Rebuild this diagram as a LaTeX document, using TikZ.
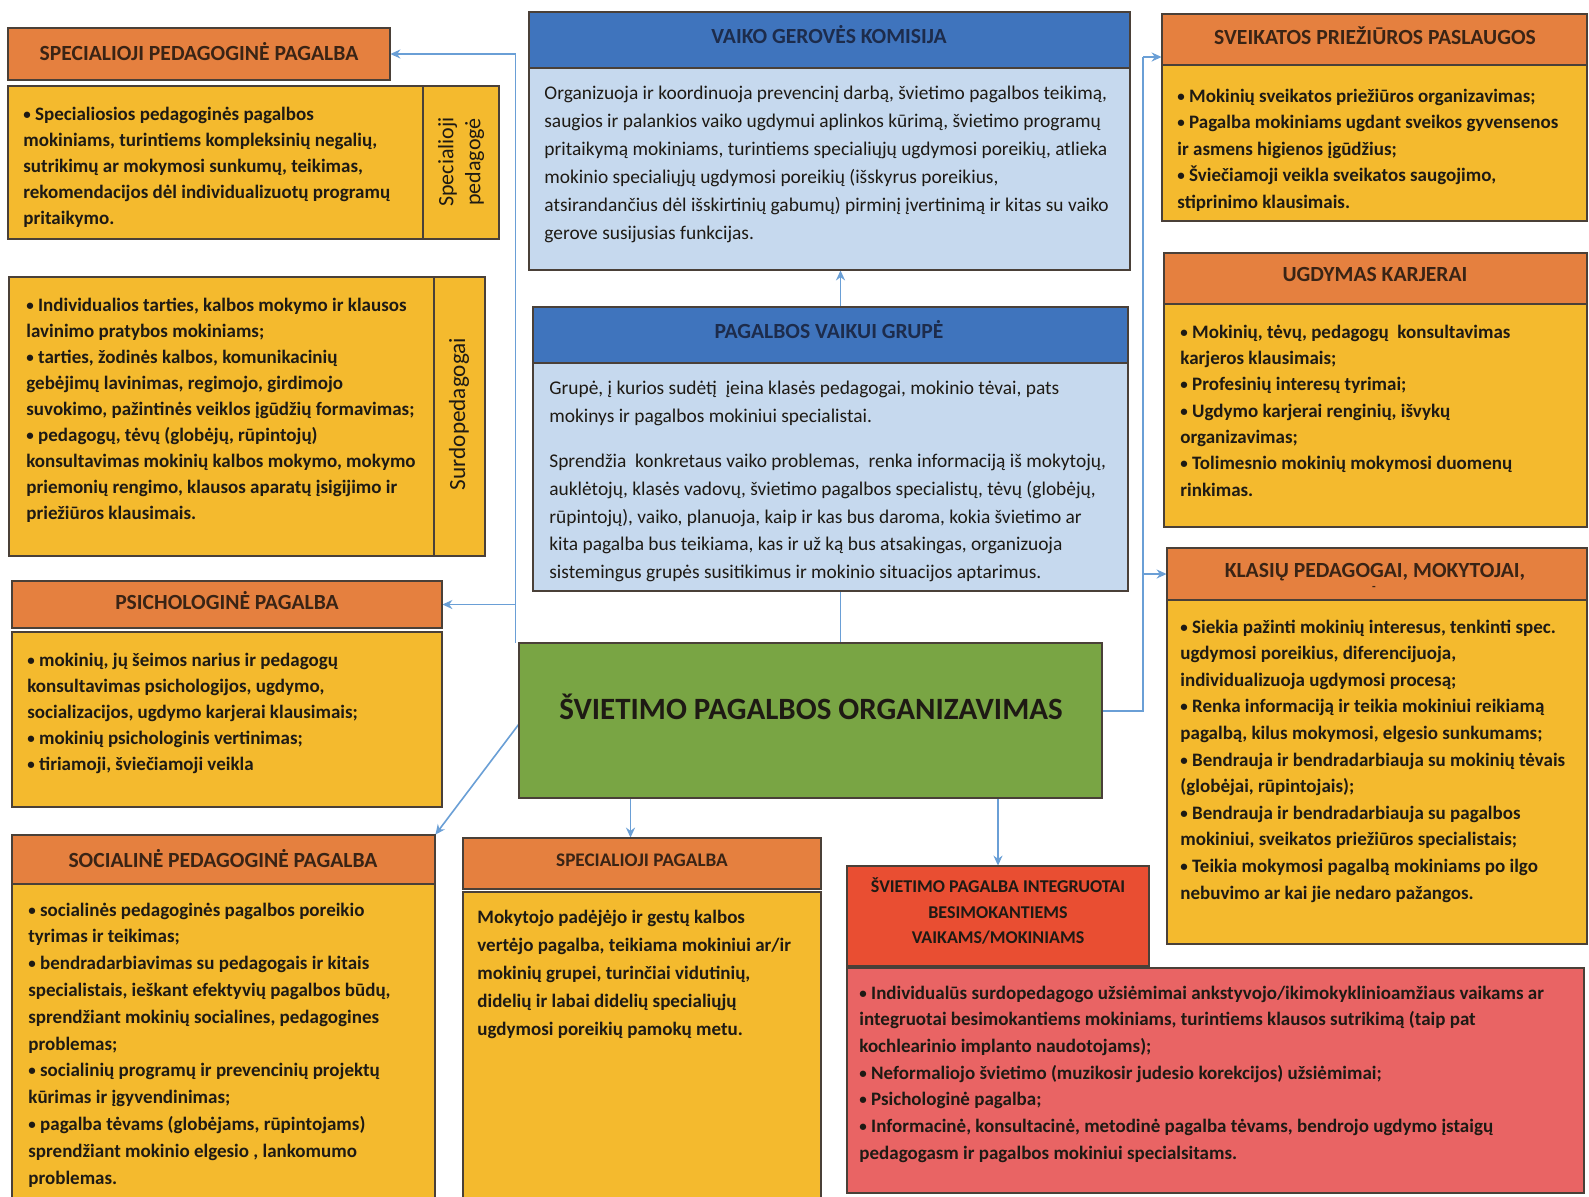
\documentclass[tikz,border=0pt]{standalone}
\usepackage{fontspec}
\setmainfont{Carlito}
\usetikzlibrary{arrows.meta,calc,fit}
\definecolor{orhead}{HTML}{E5803F}
\definecolor{yelbody}{HTML}{F4BA2E}
\definecolor{bluhead}{HTML}{3F74BD}
\definecolor{blubody}{HTML}{C6D9EE}
\definecolor{grnfill}{HTML}{79A544}
\definecolor{redheadc}{HTML}{E94E32}
\definecolor{redbodyc}{HTML}{E96464}
\definecolor{connc}{HTML}{6A9FD6}
\definecolor{edgec}{HTML}{4A4038}
\definecolor{txtc}{HTML}{1E1A14}
\definecolor{navyc}{HTML}{1D2C4C}
\definecolor{hdrtxtc}{HTML}{3A2415}
\newcommand\bul{\raisebox{0.5pt}{\fontsize{7.5}{7}\selectfont •}}
\begin{document}
\begin{tikzpicture}[x=0.5pt,y=-0.5pt,
  box/.style={draw=edgec, line width=0.75pt, inner sep=0pt},
  hdr/.style={box, fill=orhead},
  ybox/.style={box, fill=yelbody},
  bhdr/.style={box, fill=bluhead},
  bbox/.style={box, fill=blubody},
  htxt/.style={anchor=base, inner sep=0pt, text=hdrtxtc, font=\bfseries\fontsize{10.8}{12}\selectfont},
  bhtxt/.style={htxt, text=navyc},
  ytxt/.style={anchor=north west, inner sep=0pt, align=left, text=txtc},
  conn/.style={draw=connc, line width=0.8pt},
  arr/.style={conn, -{Stealth[length=5pt,width=4.5pt]}},
  rot/.style={rotate=90, align=center, inner sep=0pt, text=txtc}
]
\useasboundingbox (0,0) rectangle (1589,1196);
\clip (0,0) rectangle (1589,1196);
\fill[white] (0,0) rectangle (1589,1196);

% ---------- box outlines used as anchors for connectors ----------
\path
  node[fit={(8,28) (390,80)}, inner sep=0pt] (spechead) {}
  node[fit={(12,581) (442,628)}, inner sep=0pt] (psyhead) {}
  node[fit={(12,835) (435,884)}, inner sep=0pt] (sochead) {}
  node[fit={(529,68) (1130,270)}, inner sep=0pt] (vaikobody) {}
  node[fit={(519,643) (1102,798)}, inner sep=0pt] (green) {}
  node[fit={(463,838) (821,889)}, inner sep=0pt] (sphead) {}
  node[fit={(847,866) (1149,966)}, inner sep=0pt] (inthead) {}
  node[fit={(1162,14) (1587,65)}, inner sep=0pt] (sveikhead) {}
  node[fit={(1167,548) (1587,600)}, inner sep=0pt] (klashead) {};

% ---------- connectors ----------
\coordinate (jR) at (1143,711);
\coordinate (jT) at (1143,57);
\draw[arr] ([xshift=-1.5pt]green.north west) |- (spechead.east);
\draw[arr] ([xshift=-1.5pt]green.north west |- psyhead.east) -- (psyhead.east);
\draw[arr] ([yshift=-2pt]green.west) -- (sochead.north east);
\draw[arr] ([xshift=15pt]green.north) -- ([xshift=15pt]green.north |- vaikobody.south);
\draw[arr] ([xshift=-90pt]green.south) -- ([xshift=-90pt]green.south |- sphead.north);
\draw[arr] (green.south -| inthead.north) -- (inthead.north);
\draw[conn] (green.east |- jR) -- (jR) -- (jT);
\draw[arr] (jT) -- (jT -| sveikhead.west);
\draw[arr] (jR |- klashead.west) -- (klashead.west);

% ---------- left column ----------
\node[hdr, fit={(8,28) (390,80)}] (specheadbox) {};
\node[htxt] (specheadtxt) at (199,60) {SPECIALIOJI PEDAGOGINĖ PAGALBA};
\node[ybox, fit={(8,86) (499,239)}] (specbodybox) {};
\draw[edgec, line width=0.75pt] (specbodybox.north -| 423,0) -- (specbodybox.south -| 423,0);
\node[ytxt, font=\bfseries\fontsize{9.5}{13}\selectfont] (specbodytxt) at (23,101.5)
 {\strut\bul\ Specialiosios pedagoginės pagalbos\\
  mokiniams, turintiems kompleksinių negalių,\\
  sutrikimų ar mokymosi sunkumų, teikimas,\\
  rekomendacijos dėl individualizuotų programų\\
  pritaikymo.};
\node[rot, font=\fontsize{11}{13.5}\selectfont] (specrot) at (461,162) {Specialioji\\pedagogė};

\node[ybox, fit={(9,277) (485,556)}] (surdobox) {};
\draw[edgec, line width=0.75pt] (surdobox.north -| 434,0) -- (surdobox.south -| 434,0);
\node[ytxt, font=\bfseries\fontsize{9.5}{13.05}\selectfont] (surdotxt) at (26,292.5)
 {\strut\bul\ Individualios  tarties, kalbos mokymo ir klausos\\
  lavinimo pratybos mokiniams;\\
  \bul\ tarties, žodinės kalbos, komunikacinių\\
  gebėjimų lavinimas, regimojo, girdimojo\\
  suvokimo, pažintinės veiklos įgūdžių formavimas;\\
  \bul\ pedagogų, tėvų (globėjų, rūpintojų)\\
  konsultavimas mokinių kalbos mokymo, mokymo\\
  priemonių rengimo, klausos aparatų įsigijimo ir\\
  priežiūros  klausimais.};
\node[rot, font=\fontsize{11.6}{13.5}\selectfont] (surdorot) at (459,414) {Surdopedagogai};

\node[hdr, fit={(12,581) (442,628)}] (psyheadbox) {};
\node[htxt] (psyheadtxt) at (227,609) {PSICHOLOGINĖ PAGALBA};
\node[ybox, fit={(12,632) (442,807)}] (psybody) {};
\node[ytxt, font=\bfseries\fontsize{9.5}{12.9}\selectfont] (psytxt) at (27,648.5)
 {\strut\bul\ mokinių, jų šeimos narius ir pedagogų\\
  konsultavimas psichologijos, ugdymo,\\
  socializacijos, ugdymo karjerai klausimais;\\
  \bul\ mokinių psichologinis vertinimas;\\
  \bul\ tiriamoji, šviečiamoji veikla};

\node[hdr, fit={(12,835) (435,884)}] (socheadbox) {};
\node[htxt] (socheadtxt) at (223,867) {SOCIALINĖ PEDAGOGINĖ PAGALBA};
\node[ybox, fit={(12,884) (435,1200)}] (socbody) {};
\node[ytxt, font=\bfseries\fontsize{9.5}{13.4}\selectfont] (soctxt) at (28,897)
 {\strut\bul\ socialinės pedagoginės pagalbos poreikio\\
  tyrimas ir teikimas;\\
  \bul\ bendradarbiavimas su pedagogais ir kitais\\
  specialistais, ieškant efektyvių pagalbos būdų,\\
  sprendžiant mokinių socialines, pedagogines\\
  problemas;\\
  \bul\ socialinių programų ir prevencinių projektų\\
  kūrimas ir įgyvendinimas;\\
  \bul\ pagalba tėvams (globėjams, rūpintojams)\\
  sprendžiant mokinio elgesio , lankomumo\\
  problemas.};

% ---------- centre ----------
\node[bhdr, fit={(529,12) (1130,68)}] (vaikohead) {};
\node[bhtxt] (vaikoheadtxt) at (829,43.5) {VAIKO GEROVĖS KOMISIJA};
\node[bbox, fit={(529,68) (1130,270)}] (vaikobodybox) {};
\node[ytxt, font=\fontsize{9.7}{14}\selectfont] (vaikotxt) at (544,79.5)
 {\strut Organizuoja ir koordinuoja prevencinį darbą, švietimo pagalbos teikimą,\\
  saugios ir palankios vaiko ugdymui aplinkos kūrimą, švietimo programų\\
  pritaikymą mokiniams, turintiems specialiųjų ugdymosi poreikių, atlieka\\
  mokinio specialiųjų ugdymosi poreikių (išskyrus poreikius,\\
  atsirandančius dėl išskirtinių gabumų) pirminį įvertinimą ir kitas su vaiko\\
  gerove susijusias funkcijas.};

\node[bhdr, fit={(533,307) (1128,363)}] (grouphead) {};
\node[bhtxt] (groupheadtxt) at (829,338) {PAGALBOS VAIKUI GRUPĖ};
\node[bbox, fit={(533,363) (1128,591)}] (groupbody) {};
\node[ytxt, font=\fontsize{9.7}{13.85}\selectfont] (grouptxt) at (549,374.5)
 {\strut Grupė, į kurios sudėtį \ įeina klasės pedagogai, mokinio tėvai, pats\\
  mokinys ir pagalbos mokiniui specialistai.\\[9pt]
  Sprendžia \ konkretaus vaiko problemas, \ renka informaciją iš mokytojų,\\
  auklėtojų, klasės vadovų, švietimo pagalbos specialistų, tėvų (globėjų,\\
  rūpintojų), vaiko, planuoja, kaip ir kas bus daroma, kokia švietimo ar\\
  kita pagalba bus teikiama, kas ir už ką bus atsakingas, organizuoja\\
  sistemingus grupės susitikimus ir mokinio situacijos aptarimus.};

\node[box, fill=grnfill, fit={(519,643) (1102,798)}] (greenbox) {};
\node[anchor=base, inner sep=0pt, text=txtc, font=\bfseries\fontsize{15.5}{18}\selectfont] (greentxt) at (811,719.5) {ŠVIETIMO PAGALBOS ORGANIZAVIMAS};

\node[hdr, fit={(463,838) (821,889)}] (spheadbox) {};
\node[htxt, font=\bfseries\fontsize{9.6}{12}\selectfont] (spheadtxt) at (642,866) {SPECIALIOJI PAGALBA};
\node[ybox, fit={(463,892) (821,1200)}] (spbody) {};
\node[ytxt, font=\bfseries\fontsize{9.5}{14}\selectfont] (sptxt) at (477,903.5)
 {\strut Mokytojo padėjėjo ir gestų kalbos\\
  vertėjo pagalba, teikiama mokiniui ar/ir\\
  mokinių grupei, turinčiai vidutinių,\\
  didelių ir labai didelių specialiųjų\\
  ugdymosi poreikių pamokų metu.};

\node[box, fill=redheadc, fit={(847,866) (1149,966)}] (intheadbox) {};
\node[anchor=north, inner sep=0pt, align=center, text=txtc,
      font=\bfseries\fontsize{9}{12.75}\selectfont] (intheadtxt) at (998,874.5)
 {\strut ŠVIETIMO PAGALBA INTEGRUOTAI\\BESIMOKANTIEMS\\VAIKAMS/MOKINIAMS};
\node[box, fill=redbodyc, fit={(847,968) (1584,1193)}] (intbody) {};
\node[ytxt, font=\bfseries\fontsize{9.5}{13.35}\selectfont] (inttxt) at (859,980)
 {\strut\bul\ Individualūs surdopedagogo užsiėmimai ankstyvojo/ikimokyklinioamžiaus vaikams ar\\
  integruotai besimokantiems mokiniams, turintiems klausos sutrikimą (taip pat\\
  kochlearinio implanto naudotojams);\\
  \bul\ Neformaliojo švietimo (muzikosir judesio korekcijos) užsiėmimai;\\
  \bul\ Psichologinė pagalba;\\
  \bul\ Informacinė, konsultacinė, metodinė pagalba tėvams, bendrojo ugdymo įstaigų\\
  pedagogasm ir pagalbos mokiniui specialsitams.};

% ---------- right column ----------
\node[hdr, fit={(1162,14) (1587,65)}] (sveikheadbox) {};
\node[htxt] (sveikheadtxt) at (1375,44.5) {SVEIKATOS PRIEŽIŪROS PASLAUGOS};
\node[ybox, fit={(1162,65) (1587,221)}] (sveikbody) {};
\node[ytxt, font=\bfseries\fontsize{9.5}{13.25}\selectfont] (sveiktxt) at (1177,83.5)
 {\strut\bul\ Mokinių sveikatos priežiūros organizavimas;\\
  \bul\ Pagalba mokiniams ugdant sveikos gyvensenos\\
  ir asmens higienos įgūdžius;\\
  \bul\ Šviečiamoji veikla sveikatos saugojimo,\\
  stiprinimo klausimais.};

\node[hdr, fit={(1164,253) (1587,304)}] (karjhead) {};
\node[htxt] (karjheadtxt) at (1375,281.5) {UGDYMAS KARJERAI};
\node[ybox, fit={(1164,304) (1587,527)}] (karjbody) {};
\node[ytxt, font=\bfseries\fontsize{9.5}{13.15}\selectfont] (karjtxt) at (1180,319.5)
 {\strut\bul\ Mokinių, tėvų, pedagogų \ konsultavimas\\
  karjeros klausimais;\\
  \bul\ Profesinių interesų tyrimai;\\
  \bul\ Ugdymo karjerai renginių, išvykų\\
  organizavimas;\\
  \bul\ Tolimesnio mokinių mokymosi duomenų\\
  rinkimas.};

\node[hdr, fit={(1167,548) (1587,600)}] (klasheadbox) {};
\node[htxt] (klasheadtxt) at (1375,577.5) {KLASIŲ PEDAGOGAI, MOKYTOJAI,};
\node[inner sep=0pt, text=hdrtxtc, font=\bfseries\fontsize{6}{6}\selectfont] (klasdot) at (1374,588) {-};
\node[ybox, fit={(1167,600) (1587,944)}] (klasbody) {};
\node[ytxt, font=\bfseries\fontsize{9.5}{13.3}\selectfont] (klastxt) at (1180,614)
 {\strut\bul\ Siekia pažinti mokinių interesus, tenkinti spec.\\
  ugdymosi poreikius, diferencijuoja,\\
  individualizuoja ugdymosi procesą;\\
  \bul\ Renka informaciją ir teikia mokiniui reikiamą\\
  pagalbą, kilus mokymosi, elgesio sunkumams;\\
  \bul\ Bendrauja ir bendradarbiauja su mokinių tėvais\\
  (globėjai, rūpintojais);\\
  \bul\ Bendrauja ir bendradarbiauja su pagalbos\\
  mokiniui, sveikatos priežiūros specialistais;\\
  \bul\ Teikia mokymosi pagalbą mokiniams po ilgo\\
  nebuvimo ar kai jie nedaro pažangos.};
\end{tikzpicture}
\end{document}
